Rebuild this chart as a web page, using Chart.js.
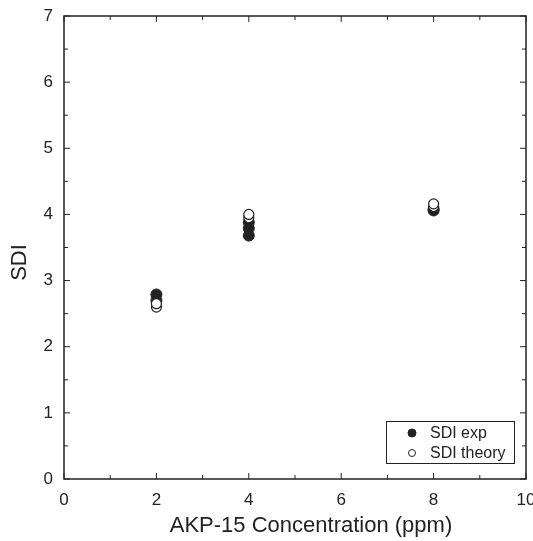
<!DOCTYPE html>
<html>
<head>
<meta charset="utf-8">
<script src="https://cdn.jsdelivr.net/npm/chart.js@4.4.0/dist/chart.umd.min.js"></script>
<style>
  html, body { margin: 0; padding: 0; background: #fff; }
  #wrap { width: 533px; height: 541px; }
</style>
</head>
<body>
<div id="wrap"><canvas id="grafico" width="533" height="541"></canvas></div>
<script>
// valores
var concExp = [2, 2, 4, 4, 4, 8, 8];
var sdiExp = [2.79, 2.70, 3.68, 3.79, 3.88, 4.06, 4.08];
var concTheory = [2, 2, 4, 4, 8, 8];
var sdiTheory = [2.60, 2.65, 3.95, 4.00, 4.12, 4.16];
var xTicks = [0, 2, 4, 6, 8, 10];
var yTicks = [0, 1, 2, 3, 4, 5, 6, 7];
var legendLabels = ['SDI exp', 'SDI theory'];
var xTitle = 'AKP-15 Concentration (ppm)';
var yTitle = 'SDI';

var ink = '#222222';
var fonte = 'Liberation Sans, Arial, sans-serif';

function pontos(xs, ys) {
    return xs.map((x, i) => ({ x: x, y: ys[i] }));
}

// ticks para dentro nos quatro lados + moldura
const moldura = {
    id: 'moldura',
    afterDatasetsDraw(chart) {
        const ctx = chart.ctx;
        const a = chart.chartArea;
        const sx = chart.scales.x, sy = chart.scales.y;
        ctx.save();
        ctx.strokeStyle = ink;
        ctx.lineWidth = 1.5;
        ctx.strokeRect(a.left, a.top, a.right - a.left, a.bottom - a.top);
        ctx.lineWidth = 1;
        ctx.beginPath();
        for (var v = 0; v <= 10; v += 1) {
            var px = sx.getPixelForValue(v);
            var len = (v % 2 === 0) ? 6 : 4;
            ctx.moveTo(px, a.bottom); ctx.lineTo(px, a.bottom - len);
            ctx.moveTo(px, a.top); ctx.lineTo(px, a.top + len);
        }
        for (var w = 0; w <= 7; w += 0.5) {
            var py = sy.getPixelForValue(w);
            var len2 = (w % 1 === 0) ? 6 : 4;
            ctx.moveTo(a.left, py); ctx.lineTo(a.left + len2, py);
            ctx.moveTo(a.right, py); ctx.lineTo(a.right - len2, py);
        }
        ctx.stroke();
        ctx.restore();
    },
    afterDraw(chart) {
        const ctx = chart.ctx;
        const a = chart.chartArea;
        const ds = chart.data.datasets;
        ctx.save();
        // titulos dos eixos (um pouco deslocados como no original)
        ctx.fillStyle = ink;
        ctx.font = '22px ' + fonte;
        ctx.textAlign = 'center';
        ctx.textBaseline = 'alphabetic';
        ctx.fillText(xTitle, (a.left + a.right) / 2 + 16, 532);
        ctx.save();
        ctx.translate(19, (a.top + a.bottom) / 2 + 15);
        ctx.rotate(-Math.PI / 2);
        ctx.textBaseline = 'middle';
        ctx.fillText(yTitle, 0, 1);
        ctx.restore();

        // legenda no canto inferior direito
        var bx = 386, by = 421, bw = 128, bh = 42;
        ctx.textAlign = 'left';
        ctx.fillStyle = '#fff';
        ctx.fillRect(bx, by, bw, bh);
        ctx.strokeStyle = ink;
        ctx.lineWidth = 1;
        ctx.strokeRect(bx + 0.5, by + 0.5, bw, bh);
        ctx.font = '16px ' + fonte;
        ctx.textBaseline = 'middle';
        legendLabels.forEach((lab, i) => {
            var cy = by + 12 + i * 20;
            ctx.beginPath();
            ctx.arc(bx + 26, cy, i === 0 ? 4 : 3.5, 0, Math.PI * 2);
            ctx.fillStyle = ds[i].backgroundColor;
            ctx.fill();
            ctx.strokeStyle = ink;
            ctx.stroke();
            ctx.fillStyle = ink;
            ctx.fillText(lab, bx + 44, cy + 1);
        });
        ctx.restore();
    }
};

new Chart(document.getElementById('grafico'), {
    type: 'scatter',
    data: {
        datasets: [{
            label: legendLabels[0],
            data: pontos(concExp, sdiExp),
            backgroundColor: ink,
            borderColor: ink,
            pointRadius: 5.5,
            pointBorderWidth: 1,
            order: 2
        }, {
            label: legendLabels[1],
            data: pontos(concTheory, sdiTheory),
            backgroundColor: '#ffffff',
            borderColor: ink,
            pointRadius: 5,
            pointBorderWidth: 1.2,
            order: 1
        }]
    },
    options: {
        responsive: false,
        animation: false,
        layout: { padding: { left: 0, top: 16, right: 7, bottom: 0 } },
        plugins: {
            legend: { display: false },
            tooltip: { enabled: false }
        },
        scales: {
            x: {
                type: 'linear',
                min: 0, max: 10,
                afterBuildTicks: s => { s.ticks = xTicks.map(v => ({ value: v })); },
                afterFit: s => { s.height = 62; s.paddingLeft = 0; s.paddingRight = 0; },
                grid: { display: false, drawTicks: false },
                border: { display: false },
                ticks: { color: ink, font: { family: fonte, size: 17 }, padding: 11, maxRotation: 0 }
            },
            y: {
                type: 'linear',
                min: 0, max: 7,
                afterBuildTicks: s => { s.ticks = yTicks.map(v => ({ value: v })); },
                afterFit: s => { s.width = 64; s.paddingTop = 0; s.paddingBottom = 0; },
                grid: { display: false, drawTicks: false },
                border: { display: false },
                ticks: { color: ink, font: { family: fonte, size: 17 }, padding: 11 }
            }
        }
    },
    plugins: [moldura]
});
</script>
</body>
</html>
